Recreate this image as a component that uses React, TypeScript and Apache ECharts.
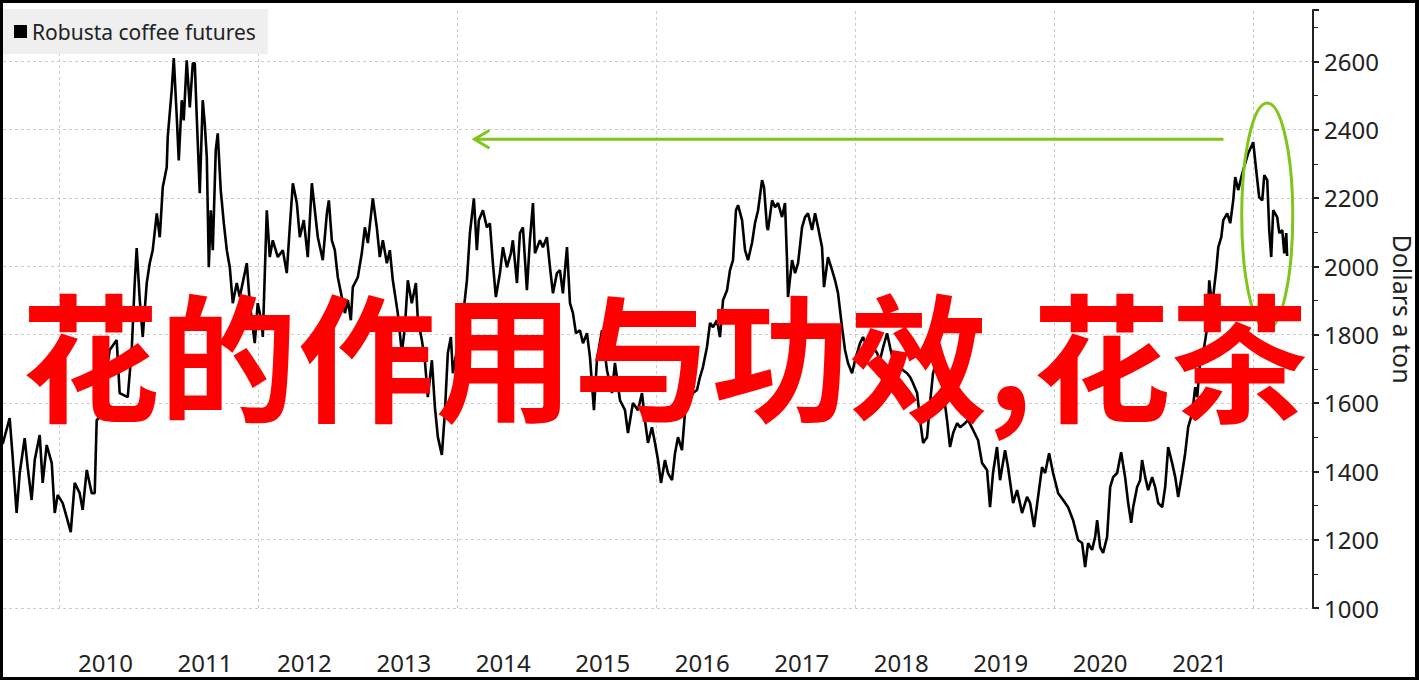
import React, { useEffect, useRef } from "react";
import * as echarts from "echarts";

// Robusta coffee futures, USD per tonne (decimal year, price)
const tradeDates = [
  2009.427, 2009.497, 2009.527, 2009.567, 2009.598, 2009.648, 2009.678, 2009.718, 2009.749, 2009.799,
  2009.829, 2009.869, 2009.92, 2009.95, 2009.98, 2010.03, 2010.07, 2010.111, 2010.151, 2010.201,
  2010.231, 2010.272, 2010.322, 2010.352, 2010.372, 2010.402, 2010.503, 2010.573, 2010.603, 2010.684,
  2010.724, 2010.754, 2010.774, 2010.805, 2010.835, 2010.875, 2010.905, 2010.935, 2010.976, 2011.006,
  2011.036, 2011.076, 2011.086, 2011.126, 2011.147, 2011.177, 2011.197, 2011.227, 2011.247, 2011.277,
  2011.308, 2011.338, 2011.358, 2011.378, 2011.408, 2011.438, 2011.458, 2011.479, 2011.499, 2011.519,
  2011.539, 2011.569, 2011.589, 2011.619, 2011.65, 2011.68, 2011.71, 2011.74, 2011.78, 2011.81,
  2011.881, 2011.911, 2011.961, 2011.991, 2012.032, 2012.042, 2012.082, 2012.112, 2012.142, 2012.193,
  2012.243, 2012.283, 2012.313, 2012.344, 2012.384, 2012.414, 2012.454, 2012.494, 2012.535, 2012.565,
  2012.595, 2012.645, 2012.686, 2012.706, 2012.736, 2012.766, 2012.796, 2012.836, 2012.867, 2012.897,
  2012.927, 2012.947, 2012.997, 2013.037, 2013.068, 2013.098, 2013.148, 2013.188, 2013.218, 2013.249,
  2013.289, 2013.319, 2013.349, 2013.399, 2013.44, 2013.47, 2013.5, 2013.54, 2013.581, 2013.601,
  2013.641, 2013.671, 2013.701, 2013.742, 2013.772, 2013.802, 2013.842, 2013.872, 2013.902, 2013.933,
  2013.953, 2013.993, 2014.043, 2014.094, 2014.124, 2014.164, 2014.194, 2014.214, 2014.255, 2014.295,
  2014.325, 2014.355, 2014.385, 2014.426, 2014.456, 2014.496, 2014.536, 2014.556, 2014.597, 2014.627,
  2014.657, 2014.697, 2014.727, 2014.758, 2014.778, 2014.828, 2014.858, 2014.898, 2014.929, 2014.959,
  2014.999, 2015.029, 2015.059, 2015.1, 2015.13, 2015.16, 2015.19, 2015.23, 2015.261, 2015.301,
  2015.331, 2015.371, 2015.401, 2015.452, 2015.502, 2015.552, 2015.582, 2015.633, 2015.683, 2015.713,
  2015.763, 2015.814, 2015.854, 2015.884, 2015.914, 2015.954, 2015.985, 2016.015, 2016.045, 2016.085,
  2016.115, 2016.156, 2016.186, 2016.216, 2016.256, 2016.286, 2016.337, 2016.367, 2016.407, 2016.437,
  2016.467, 2016.507, 2016.538, 2016.568, 2016.608, 2016.638, 2016.669, 2016.709, 2016.739, 2016.769,
  2016.799, 2016.82, 2016.86, 2016.89, 2016.92, 2016.96, 2016.99, 2017.021, 2017.061, 2017.081,
  2017.111, 2017.121, 2017.162, 2017.192, 2017.222, 2017.262, 2017.292, 2017.312, 2017.322, 2017.363,
  2017.393, 2017.423, 2017.463, 2017.493, 2017.523, 2017.564, 2017.594, 2017.624, 2017.664, 2017.684,
  2017.724, 2017.765, 2017.795, 2017.825, 2017.865, 2017.895, 2017.925, 2017.966, 2017.996, 2018.046,
  2018.076, 2018.117, 2018.147, 2018.177, 2018.217, 2018.247, 2018.278, 2018.318, 2018.348, 2018.378,
  2018.418, 2018.449, 2018.479, 2018.519, 2018.549, 2018.579, 2018.62, 2018.65, 2018.68, 2018.72,
  2018.75, 2018.78, 2018.821, 2018.851, 2018.881, 2018.921, 2018.951, 2018.982, 2019.022, 2019.052,
  2019.102, 2019.132, 2019.183, 2019.233, 2019.273, 2019.323, 2019.353, 2019.383, 2019.423, 2019.454,
  2019.504, 2019.534, 2019.585, 2019.625, 2019.675, 2019.725, 2019.756, 2019.796, 2019.836, 2019.876,
  2019.907, 2019.947, 2019.987, 2020.038, 2020.088, 2020.138, 2020.188, 2020.238, 2020.279, 2020.309,
  2020.339, 2020.379, 2020.41, 2020.43, 2020.46, 2020.49, 2020.53, 2020.561, 2020.591, 2020.631,
  2020.671, 2020.711, 2020.742, 2020.772, 2020.792, 2020.832, 2020.862, 2020.882, 2020.913, 2020.943,
  2020.983, 2021.013, 2021.044, 2021.084, 2021.114, 2021.144, 2021.184, 2021.215, 2021.245, 2021.285,
  2021.315, 2021.345, 2021.386, 2021.416, 2021.436, 2021.466, 2021.496, 2021.537, 2021.557, 2021.587,
  2021.607, 2021.627, 2021.648, 2021.678, 2021.698, 2021.738, 2021.768, 2021.798, 2021.818, 2021.848,
  2021.889, 2021.919, 2021.949, 2021.999, 2022.029, 2022.059, 2022.09, 2022.11, 2022.14, 2022.16,
  2022.18, 2022.2, 2022.24, 2022.261, 2022.291, 2022.311, 2022.331, 2022.34,
];

const prices = [
  1480, 1556, 1442, 1278, 1395, 1497, 1412, 1316, 1433, 1506,
  1366, 1477, 1424, 1278, 1331, 1307, 1266, 1222, 1366, 1336,
  1287, 1404, 1336, 1336, 1550, 1559, 1755, 1784, 1629, 1617,
  1755, 1951, 2053, 1901, 1793, 1951, 2009, 2047, 2155, 2085,
  2231, 2290, 2378, 2515, 2609, 2436, 2310, 2486, 2427, 2603,
  2465, 2594, 2594, 2436, 2214, 2486, 2419, 2319, 1997, 2164,
  2047, 2340, 2389, 2223, 2126, 2047, 1997, 1892, 1951, 1910,
  2009, 1892, 1775, 1892, 1834, 1793, 2164, 2027, 2076, 2027,
  2047, 1980, 2114, 2243, 2185, 2085, 2135, 2027, 2243, 2164,
  2085, 2018, 2155, 2193, 2076, 2047, 1968, 1910, 1863, 1901,
  1842, 1939, 1968, 2038, 2114, 2068, 2199, 2114, 2027, 2076,
  2009, 2047, 1959, 1863, 1746, 1822, 1959, 1892, 1951, 1842,
  1784, 1725, 1617, 1725, 1588, 1500, 1448, 1570, 1746, 1793,
  1687, 1755, 1822, 1959, 2097, 2199, 2047, 2135, 2164, 2114,
  2126, 2009, 1910, 1980, 2056, 1997, 2038, 2076, 1951, 2097,
  2114, 1930, 2076, 2185, 2038, 2076, 2056, 2085, 1997, 1921,
  1980, 1989, 1921, 2056, 1892, 1863, 1804, 1813, 1775, 1804,
  1734, 1579, 1725, 1813, 1696, 1629, 1717, 1608, 1579, 1512,
  1600, 1579, 1629, 1550, 1483, 1529, 1483, 1433, 1366, 1433,
  1395, 1374, 1453, 1500, 1462, 1570, 1608, 1629, 1638, 1676,
  1705, 1763, 1834, 1822, 1842, 1793, 1901, 1930, 1989, 2018,
  2164, 2179, 2135, 2047, 2018, 2068, 2126, 2164, 2252, 2231,
  2114, 2106, 2193, 2173, 2185, 2144, 2185, 2018, 1910, 2018,
  1980, 2009, 2114, 2144, 2155, 2106, 2155, 2114, 2056, 1939,
  2027, 1989, 1959, 1921, 1822, 1755, 1717, 1687, 1725, 1775,
  1793, 1763, 1746, 1763, 1746, 1725, 1763, 1804, 1763, 1725,
  1717, 1705, 1696, 1687, 1676, 1658, 1629, 1550, 1483, 1500,
  1600, 1687, 1725, 1687, 1638, 1550, 1471, 1512, 1541, 1529,
  1541, 1550, 1521, 1491, 1424, 1404, 1295, 1395, 1471, 1374,
  1462, 1412, 1307, 1345, 1278, 1325, 1307, 1237, 1325, 1412,
  1395, 1453, 1395, 1336, 1316, 1295, 1257, 1199, 1190, 1120,
  1190, 1170, 1208, 1257, 1178, 1161, 1208, 1354, 1383, 1395,
  1456, 1383, 1307, 1249, 1295, 1354, 1374, 1433, 1383, 1345,
  1383, 1354, 1307, 1295, 1354, 1471, 1424, 1383, 1325, 1395,
  1453, 1529, 1570, 1646, 1617, 1725, 1746, 1822, 1959, 1880,
  1939, 1989, 2056, 2085, 2135, 2155, 2126, 2193, 2261, 2223,
  2272, 2302, 2331, 2363, 2281, 2202, 2193, 2267, 2252, 2106,
  2027, 2164, 2144, 2097, 2106, 2038, 2097, 2030,
];

const seriesName = "Robusta coffee futures";
const yearLabels = [2010, 2011, 2012, 2013, 2014, 2015, 2016, 2017, 2018, 2019, 2020, 2021];
const gridYears = [2010, 2012, 2014, 2016, 2018, 2020, 2022];
const priceTicks = { min: 1000, max: 2750, step: 200 };

// Annotation anchors in data space
const arrowTip = [2014.17, 2372];
const arrowTail = [2021.7, 2372];
const ringCenter = [2022.14, 2147];

const headline = "花的作用与功效,花茶";

const FONT = '"Noto Sans", "Open Sans", sans-serif';
const GREEN = "#80c41c";

export default function App() {
  const ref = useRef<HTMLDivElement>(null);

  useEffect(() => {
    if (!ref.current) return;
    const chart = echarts.init(ref.current, undefined, { renderer: "svg" });

    const points = tradeDates.map((d, i) => [d, prices[i]]);

    chart.setOption({
      animation: false,
      backgroundColor: "#ffffff",
      textStyle: { fontFamily: FONT },
      grid: {
        left: 3,
        right: 106,
        top: 10,
        bottom: 72,
        containLabel: false,
        outerBoundsMode: "none",
      },
      legend: {
        data: [seriesName],
        left: 3,
        top: 9,
        padding: [12, 12, 12, 11],
        backgroundColor: "#efefef",
        icon: "rect",
        itemWidth: 13,
        itemHeight: 13,
        itemGap: 6,
        selectedMode: false,
        textStyle: { fontSize: 21, color: "#222", fontFamily: FONT },
      },
      xAxis: {
        type: "value",
        min: 2009.43,
        max: 2022.6,
        axisLine: { show: false },
        axisTick: { show: false },
        splitLine: { show: false },
        axisLabel: {
          customValues: yearLabels.map((y) => y + 0.46),
          formatter: (v: number) => String(Math.floor(v)),
          fontSize: 24,
          color: "#222",
          margin: 42,
          fontFamily: FONT,
        },
      },
      yAxis: {
        type: "value",
        position: "right",
        min: priceTicks.min,
        max: priceTicks.max,
        interval: priceTicks.step,
        name: "Dollars a ton",
        nameLocation: "middle",
        nameRotate: -90,
        nameGap: 77,
        nameTextStyle: { fontSize: 25, color: "#222", fontFamily: FONT },
        axisLine: { show: true, lineStyle: { color: "#222", width: 2 } },
        axisTick: { show: true, length: 6, lineStyle: { color: "#222", width: 2 } },
        minorTick: { show: true, splitNumber: 2, length: 5, lineStyle: { color: "#222", width: 1 } },
        axisLabel: {
          fontSize: 24,
          color: "#222",
          margin: 11,
          showMaxLabel: false,
          formatter: (v: number) => String(v),
          fontFamily: FONT,
        },
        splitLine: {
          show: true,
          showMaxLine: false,
          lineStyle: { color: "#cccccc", type: [3, 3], width: 1 },
        },
      },
      series: [
        {
          name: seriesName,
          type: "line",
          data: points,
          showSymbol: false,
          symbol: "none",
          color: "#000000",
          lineStyle: { color: "#000000", width: 2.6 },
          z: 3,
          markLine: {
            silent: true,
            z: 1,
            symbol: ["none", "none"],
            label: { show: false },
            emphasis: { disabled: true },
            lineStyle: { color: "#cccccc", type: [3, 3], width: 1 },
            data: gridYears.map((y) => ({ xAxis: y })),
          },
        },
      ],
    });

    const tip = chart.convertToPixel({ seriesIndex: 0 }, arrowTip) as number[];
    const tail = chart.convertToPixel({ seriesIndex: 0 }, arrowTail) as number[];
    const ring = chart.convertToPixel({ seriesIndex: 0 }, ringCenter) as number[];

    chart.setOption({
      graphic: [
        {
          type: "line",
          z: 50,
          shape: { x1: tip[0], y1: tip[1], x2: tail[0], y2: tail[1] },
          style: { stroke: GREEN, lineWidth: 3 },
        },
        {
          type: "polyline",
          z: 50,
          shape: {
            points: [
              [tip[0] + 15, tip[1] - 9],
              [tip[0], tip[1]],
              [tip[0] + 15, tip[1] + 9],
            ],
          },
          style: { stroke: GREEN, lineWidth: 3, fill: "none" },
        },
        {
          type: "ellipse",
          z: 50,
          shape: { cx: ring[0], cy: ring[1], rx: 25.5, ry: 113 },
          style: { stroke: GREEN, lineWidth: 3, fill: "none" },
        },
        {
          type: "text",
          z: 100,
          x: 665,
          y: 351,
          style: {
            text: headline,
            fill: "#ff0000",
            fontSize: 138,
            fontWeight: "bold",
            fontFamily: '"Noto Sans CJK SC", sans-serif',
            align: "center",
            verticalAlign: "middle",
          },
        },
      ],
    });

    return () => chart.dispose();
  }, []);

  return (
    <div style={{ position: "fixed", left: 0, top: 0, width: 1419, height: 680, background: "#fff" }}>
      <div ref={ref} style={{ position: "absolute", left: 0, top: 0, width: 1419, height: 680 }} />
      <div
        style={{
          position: "absolute",
          left: 0,
          top: 0,
          width: 1419,
          height: 680,
          boxSizing: "border-box",
          borderStyle: "solid",
          borderColor: "#000",
          borderWidth: "3px 4px 3px 3px",
          pointerEvents: "none",
        }}
      />
    </div>
  );
}
